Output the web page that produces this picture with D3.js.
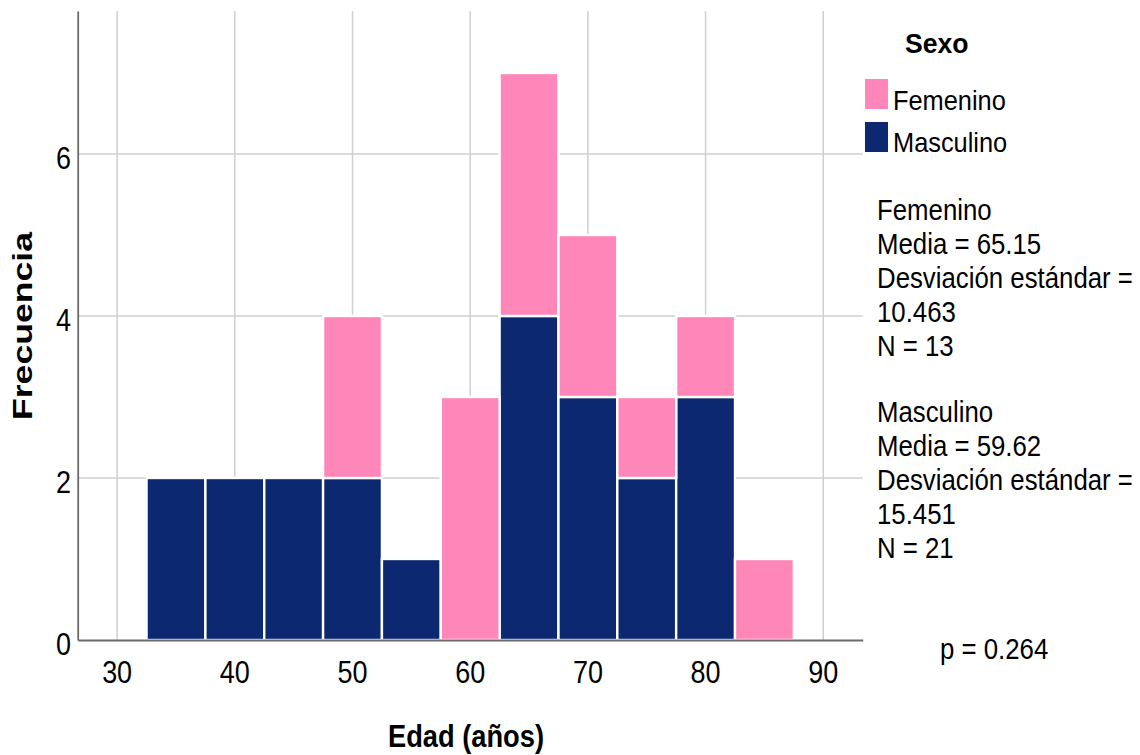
<!DOCTYPE html>
<html>
<head>
<meta charset="utf-8">
<script src="https://cdn.jsdelivr.net/npm/d3@7"></script>
<style>
  html, body { margin: 0; padding: 0; background: #fff; }
  svg text { font-family: "Liberation Sans", Arial, sans-serif; fill: #000; }
</style>
</head>
<body>
<svg id="chart" width="1140" height="755"></svg>
<script>
// Age bins (lower edge, width 5 years)
const binStarts = [32.5, 37.5, 42.5, 47.5, 52.5, 57.5, 62.5, 67.5, 72.5, 77.5, 82.5];
const binWidth = 5;
// Counts per bin for each sex
const masculino = [2, 2, 2, 2, 1, 0, 4, 3, 2, 3, 0];
const femenino  = [0, 0, 0, 2, 0, 3, 3, 2, 1, 1, 1];
const seriesNames = ["Masculino", "Femenino"];
const seriesColors = ["#0b2870", "#ff86b8"];
// Axis ticks
const xTicks = [30, 40, 50, 60, 70, 80, 90];
const yTicks = [0, 2, 4, 6];
// Legend and summary statistics
const legendTitle = "Sexo";
const legendItems = ["Femenino", "Masculino"];
const statsFemenino = ["Femenino", "Media = 65.15", "Desviación estándar =", "10.463", "N = 13"];
const statsMasculino = ["Masculino", "Media = 59.62", "Desviación estándar =", "15.451", "N = 21"];
const pValueText = "p = 0.264";

const svg = d3.select("#chart");

const x = d3.scaleLinear().domain([26.65, 93.35]).range([77.7, 862.7]);
const y = d3.scaleLinear().domain([0, 7.765]).range([640, 11]);

// Text helper: horizontal scale factor sx condenses glyphs
function label(parent, px, py, txt, opt = {}) {
  const size = opt.size || 26, sx = opt.sx || 1, rot = opt.rotate || 0;
  return parent.append("text")
    .attr("transform", `translate(${px},${py}) rotate(${rot}) scale(${sx},1)`)
    .attr("font-size", size)
    .attr("font-weight", opt.bold ? "bold" : "normal")
    .attr("text-anchor", opt.anchor || "start")
    .text(txt);
}

// Gridlines
const grid = svg.append("g");
grid.selectAll("line.v").data(xTicks).join("line")
  .attr("x1", d => x(d)).attr("x2", d => x(d))
  .attr("y1", y.range()[1]).attr("y2", y(0))
  .attr("stroke", "#cfcfcf").attr("stroke-width", 1.5);
grid.selectAll("line.h").data(yTicks.filter(d => d > 0)).join("line")
  .attr("x1", x.range()[0]).attr("x2", x.range()[1])
  .attr("y1", d => y(d)).attr("y2", d => y(d))
  .attr("stroke", "#cfcfcf").attr("stroke-width", 1.5);

// Stacked histogram bars
const rows = binStarts.map((b, i) => ({ start: b, Masculino: masculino[i], Femenino: femenino[i] }));
const stacked = d3.stack().keys(seriesNames)(rows);
svg.append("g").selectAll("g").data(stacked).join("g")
  .attr("fill", (d, i) => seriesColors[i])
  .selectAll("rect").data(d => d.filter(s => s[1] > s[0])).join("rect")
  .attr("x", d => x(d.data.start))
  .attr("width", d => x(d.data.start + binWidth) - x(d.data.start))
  .attr("y", d => y(d[1]))
  .attr("height", d => y(d[0]) - y(d[1]))
  .attr("stroke", "#fff").attr("stroke-width", 2.4);

// Axis lines
const xAxis = svg.append("g").attr("transform", `translate(0,${y(0)})`)
  .call(d3.axisBottom(x).tickValues(xTicks).tickSize(0).tickFormat(() => ""));
xAxis.select(".domain").attr("stroke", "#6b6b6b").attr("stroke-width", 1.8);
const yAxis = svg.append("g").attr("transform", `translate(${x.range()[0]},0)`)
  .call(d3.axisLeft(y).tickValues(yTicks).tickSize(0).tickFormat(() => ""));
yAxis.select(".domain").attr("stroke", "#6b6b6b").attr("stroke-width", 1.8);

// Tick labels
const tickG = svg.append("g");
xTicks.forEach(v => label(tickG, x(v), 683, String(v), { size: 31, sx: 0.87, anchor: "middle" }));
yTicks.forEach(v => label(tickG, 71, y(v) + 15, String(v), { size: 31, sx: 0.87, anchor: "end" }));

// Axis titles
label(svg, 466, 747, "Edad (años)", { size: 31, sx: 0.88, bold: true, anchor: "middle" });
label(svg, 32, 326, "Frecuencia", { size: 27, sx: 1.32, bold: true, anchor: "middle", rotate: -90 });

// Legend
const leg = svg.append("g");
label(leg, 905, 53, legendTitle, { size: 28, sx: 0.95, bold: true });
legendItems.forEach((name, i) => {
  const color = seriesColors[seriesNames.indexOf(name)];
  leg.append("rect").attr("x", 865).attr("y", 79 + i * 43).attr("width", 23).attr("height", 30)
    .attr("fill", color);
  label(leg, 893, 110 + i * 42, name, { size: 27, sx: 0.94 });
});

// Summary statistics
const stats = svg.append("g");
statsFemenino.forEach((s, i) => label(stats, 877, 220 + i * 34, s, { size: 30, sx: 0.86 }));
statsMasculino.forEach((s, i) => label(stats, 877, 422 + i * 34, s, { size: 30, sx: 0.86 }));
label(stats, 940, 659, pValueText, { size: 30, sx: 0.86 });
</script>
</body>
</html>
